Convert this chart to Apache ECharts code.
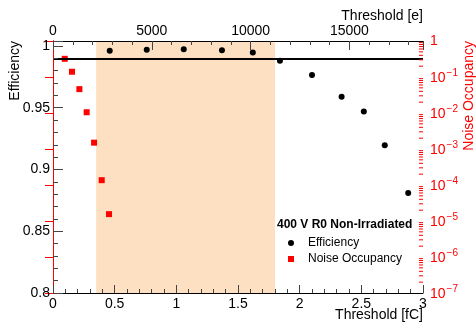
<!DOCTYPE html>
<html>
<head>
<meta charset="utf-8">
<script src="https://cdn.jsdelivr.net/npm/echarts@6/dist/echarts.min.js"></script>
<style>
  html, body { margin: 0; padding: 0; background: #fff; }
  #chart { width: 476px; height: 325px; }
</style>
</head>
<body>
<div id="chart"></div>
<script>
// threshold in fC for the efficiency points
const effThreshold = [0.46, 0.76, 1.06, 1.37, 1.62, 1.84, 2.10, 2.34, 2.52, 2.69, 2.88]
const efficiency = [0.9962, 0.9970, 0.9973, 0.9965, 0.9946, 0.9881, 0.9765, 0.9588, 0.9469, 0.9197, 0.8809]
// threshold in fC for the noise occupancy points
const noiseThreshold = [0.095, 0.154, 0.214, 0.273, 0.333, 0.395, 0.454]
const noiseOccupancy = [0.32, 0.14, 0.046, 0.0105, 0.0015, 0.000136, 0.0000155]

const efficiencyTarget = 0.99
const noiseLimit = 0.001
const operatingWindow = [0.35, 1.8]
const electronsPerFc = 6241.5

const font = 'Liberation Sans, Arial, Helvetica, sans-serif'
const red = '#ff0000'

// log axis minor ticks (2..9 x 10^n), echarts does not draw them itself
const logMinorTicks = []
for (let e = -7; e < 0; e++) {
  for (let k = 2; k <= 9; k++) logMinorTicks.push([3, k * Math.pow(10, e)])
}

const chart = echarts.init(document.getElementById('chart'))

const option = {
  animation: false,
  textStyle: { fontFamily: font },
  grid: { left: 53, right: 53, top: 41, bottom: 32, containLabel: false, outerBoundsMode: 'none' },
  title: {
    text: '400 V R0 Non-Irradiated',
    left: 277,
    top: 219,
    padding: 0,
    textStyle: { fontSize: 12, fontWeight: 'bold', color: '#000', fontFamily: font }
  },
  legend: {
    orient: 'vertical',
    left: 288,
    top: 237,
    padding: 0,
    itemWidth: 6,
    itemHeight: 6,
    itemGap: 4,
    textStyle: { fontSize: 12, color: '#000', fontFamily: font, padding: [0, 0, 0, 9] },
    data: [
      { name: 'Efficiency', icon: 'circle' },
      { name: 'Noise Occupancy', icon: 'rect' }
    ]
  },
  graphic: [
    {
      type: 'text',
      x: 469,
      y: 41,
      rotation: Math.PI / 2,
      silent: true,
      style: { text: 'Noise Occupancy', fill: red, fontSize: 14, fontFamily: font, align: 'right', verticalAlign: 'middle' }
    }
  ],
  xAxis: [
    {
      type: 'value',
      position: 'bottom',
      min: 0,
      max: 3,
      interval: 0.5,
      z: 10,
      splitLine: { show: false },
      axisLine: { lineStyle: { color: '#000', width: 1 } },
      axisTick: { inside: true, length: 8, lineStyle: { color: '#444' } },
      minorTick: { show: true, splitNumber: 5, length: 4, lineStyle: { color: '#444' } },
      axisLabel: { margin: 4, fontSize: 14, color: '#000', fontFamily: font },
      name: 'Threshold [fC]',
      nameLocation: 'end',
      nameGap: 0,
      nameMoveOverlap: false,
      nameTextStyle: { fontSize: 14, color: '#000', fontFamily: font, align: 'right', verticalAlign: 'top', padding: [15, 0, 0, 0] }
    },
    {
      type: 'value',
      position: 'top',
      min: 0,
      max: 3 * electronsPerFc,
      interval: 5000,
      z: 10,
      splitLine: { show: false },
      axisLine: { lineStyle: { color: '#000', width: 1 } },
      axisTick: { inside: true, length: 9, lineStyle: { color: '#444' } },
      minorTick: { show: true, splitNumber: 5, length: 4, lineStyle: { color: '#444' } },
      axisLabel: {
        margin: 3, fontSize: 14, color: '#000', fontFamily: font,
        formatter: v => (v % 5000 === 0 ? String(v) : '')
      },
      name: 'Threshold [e]',
      nameLocation: 'end',
      nameGap: 0,
      nameMoveOverlap: false,
      nameTextStyle: { fontSize: 14, color: '#000', fontFamily: font, align: 'right', verticalAlign: 'bottom', padding: [0, 0, 18, 0] }
    }
  ],
  yAxis: [
    {
      type: 'value',
      position: 'left',
      min: 0.8,
      max: 1.004,
      interval: 0.05,
      z: 10,
      splitLine: { show: false },
      axisLine: { lineStyle: { color: '#000', width: 1 } },
      axisTick: { inside: true, length: 10, lineStyle: { color: '#444' } },
      minorTick: { show: true, splitNumber: 5, length: 5, lineStyle: { color: '#444' } },
      axisLabel: {
        margin: 3, fontSize: 14, color: '#000', fontFamily: font,
        formatter: v => {
          const k = v / 0.05
          return Math.abs(k - Math.round(k)) < 1e-6 ? String(+v.toFixed(2)) : ''
        }
      },
      name: 'Efficiency',
      nameLocation: 'end',
      nameGap: 0,
      nameRotate: 90,
      nameMoveOverlap: false,
      nameTextStyle: { fontSize: 14, color: '#000', fontFamily: font, align: 'right', verticalAlign: 'bottom', padding: [0, 0, 31, 0] }
    },
    {
      type: 'log',
      logBase: 10,
      position: 'right',
      min: 1e-7,
      max: 1,
      interval: 1,
      z: 10,
      splitLine: { show: false },
      axisLine: { lineStyle: { color: red, width: 1 } },
      axisTick: { inside: true, length: 8, lineStyle: { color: red } },
      axisLabel: {
        margin: 7, color: red, fontFamily: font,
        formatter: v => {
          const e = Math.round(Math.log10(v))
          return e === 0 ? '{b|1}' : '{b|10}{s|\u2212' + Math.abs(e) + '}'
        },
        rich: {
          b: { fontSize: 14, color: red, fontFamily: font, verticalAlign: 'bottom' },
          s: { fontSize: 10, color: red, fontFamily: font, verticalAlign: 'bottom', padding: [0, 0, 7, 1] }
        }
      }
    }
  ],
  series: [
    {
      name: 'Efficiency',
      type: 'scatter',
      xAxisIndex: 0,
      yAxisIndex: 0,
      symbol: 'circle',
      symbolSize: 6,
      itemStyle: { color: '#000', opacity: 1 },
      data: effThreshold.map((x, i) => [x, efficiency[i]]),
      markArea: {
        silent: true,
        itemStyle: { color: '#fde0c2' },
        data: [[{ xAxis: operatingWindow[0] }, { xAxis: operatingWindow[1] }]]
      },
      markLine: {
        silent: true,
        symbol: 'none',
        label: { show: false },
        lineStyle: { color: '#000', width: 2, type: 'solid' },
        data: [{ yAxis: efficiencyTarget }]
      }
    },
    {
      name: 'Noise Occupancy',
      type: 'scatter',
      xAxisIndex: 0,
      yAxisIndex: 1,
      symbol: 'rect',
      symbolSize: 6,
      itemStyle: { color: red, opacity: 1 },
      data: noiseThreshold.map((x, i) => [x, noiseOccupancy[i]]),
      markLine: {
        silent: true,
        symbol: 'none',
        label: { show: false },
        lineStyle: { color: red, width: 2, type: [5, 4] },
        data: [{ yAxis: noiseLimit }]
      }
    },
    {
      type: 'custom',
      xAxisIndex: 0,
      yAxisIndex: 1,
      silent: true,
      clip: false,
      z: 11,
      renderItem: (params, api) => {
        const p = api.coord([api.value(0), api.value(1)])
        return {
          type: 'line',
          shape: { x1: p[0] - 4, y1: p[1], x2: p[0], y2: p[1] },
          style: { stroke: red, lineWidth: 1 }
        }
      },
      data: logMinorTicks
    }
  ]
}

chart.setOption(option)
</script>
</body>
</html>
